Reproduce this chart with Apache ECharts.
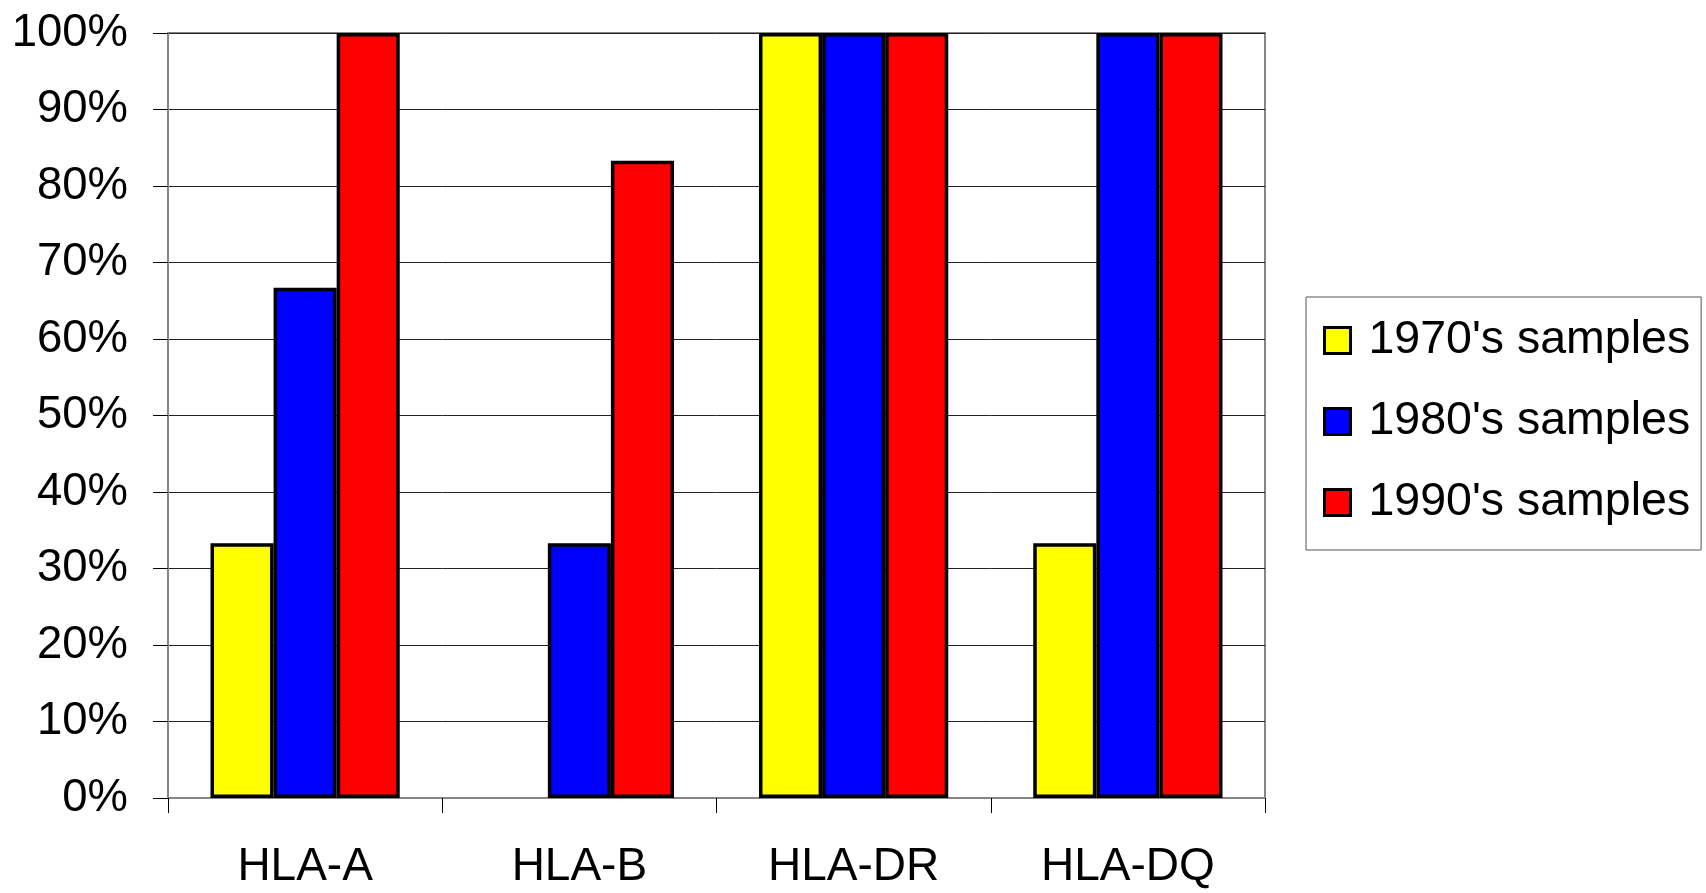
<!DOCTYPE html>
<html>
<head>
<meta charset="utf-8">
<script src="https://cdn.jsdelivr.net/npm/echarts@6/dist/echarts.min.js"></script>
<style>
html,body{margin:0;padding:0;background:#fff;}
#chart{width:1706px;height:893px;}
</style>
</head>
<body>
<div id="chart"></div>
<script>
const categories = ['HLA-A', 'HLA-B', 'HLA-DR', 'HLA-DQ'];
const seriesNames = ["1970's samples", "1980's samples", "1990's samples"];
const values1970 = [33.3, 0, 100, 33.3];
const values1980 = [66.7, 33.3, 100, 100];
const values1990 = [100, 83.3, 100, 100];
const yTicks = [0, 10, 20, 30, 40, 50, 60, 70, 80, 90, 100];
const colors = ['#ffff00', '#0000ff', '#ff0000'];

const font = '"Liberation Sans", Arial, sans-serif';
const chart = echarts.init(document.getElementById('chart'));
const allValues = [values1970, values1980, values1990];

chart.setOption({
  animation: false,
  backgroundColor: '#ffffff',
  grid: {
    left: 168, right: 441, top: 33, bottom: 95,
    show: true, borderColor: '#858585', borderWidth: 2, backgroundColor: 'transparent'
  },
  legend: {
    orient: 'vertical',
    left: 1306, top: 297,
    padding: [20, 11, 24, 17],
    backgroundColor: '#fff',
    borderColor: '#555',
    borderWidth: 1,
    itemWidth: 26, itemHeight: 26, itemGap: 34,
    icon: 'rect',
    itemStyle: { borderColor: '#000', borderWidth: 3 },
    textStyle: { fontFamily: font, fontSize: 46.5, color: '#000', lineHeight: 46, padding: [0, 0, 0, 13] },
    data: seriesNames
  },
  xAxis: {
    type: 'category',
    data: categories,
    axisLine: { show: true, lineStyle: { color: '#858585', width: 2 } },
    axisTick: { show: true, length: 15, lineStyle: { color: '#000', width: 1 } },
    axisLabel: { fontFamily: font, fontSize: 46, color: '#000', margin: 46 },
    splitLine: { show: false }
  },
  yAxis: {
    type: 'value',
    min: yTicks[0], max: yTicks[yTicks.length - 1], interval: yTicks[1] - yTicks[0],
    axisLine: { show: true, lineStyle: { color: '#858585', width: 2 } },
    axisTick: { show: true, length: 15, lineStyle: { color: '#000', width: 1 } },
    axisLabel: { fontFamily: font, fontSize: 45.5, color: '#000', margin: 40, formatter: '{value}%' },
    splitLine: { show: true, lineStyle: { color: '#222', width: 1 } }
  },
  series: seriesNames.map((name, i) => ({
    name: name,
    type: 'bar',
    data: allValues[i].map(v => v === 0 ? { value: v, itemStyle: { borderWidth: 0 } } : v),
    barGap: '0%',
    barCategoryGap: '31%',
    itemStyle: { color: colors[i], borderColor: '#000', borderWidth: 3.5 }
  }))
});
</script>
</body>
</html>
